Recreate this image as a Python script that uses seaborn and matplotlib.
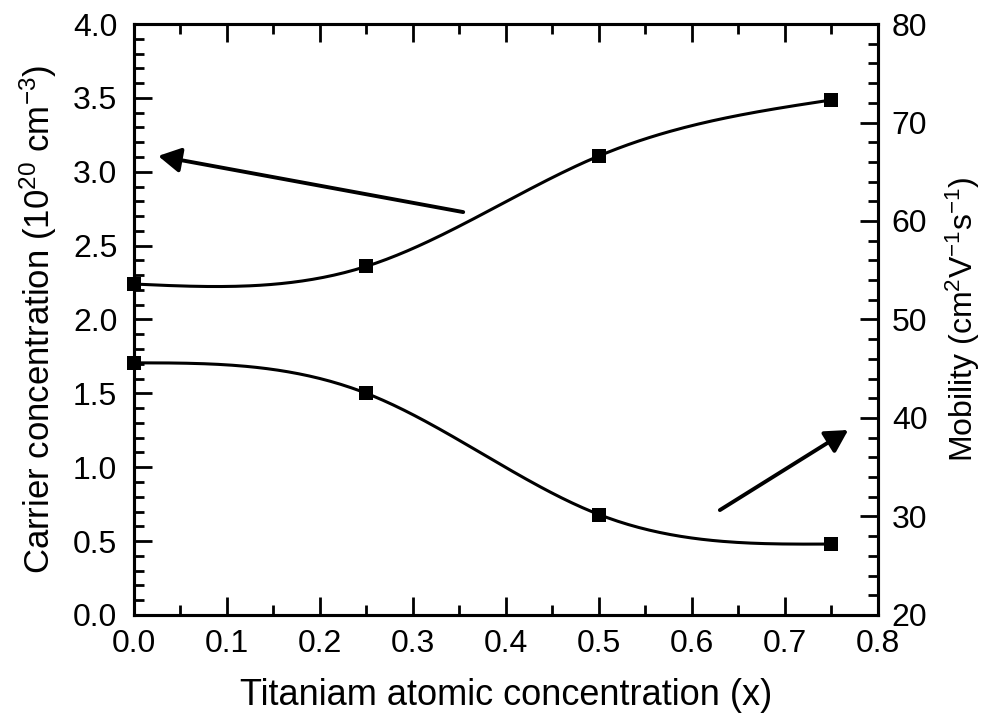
import numpy as np
import pandas as pd
import matplotlib
matplotlib.use("Agg")
import matplotlib.pyplot as plt
from matplotlib.ticker import MultipleLocator, FormatStrFormatter
import seaborn as sns

# ---- data ----
ti_x = [0.0, 0.25, 0.5, 0.75]
carrier_conc = [2.24, 2.36, 3.107, 3.486]     # 10^20 cm^-3 (left axis)
mobility = [45.6, 42.5, 30.2, 27.2]           # cm^2 V^-1 s^-1 (right axis)

x_label = "Titaniam atomic concentration (x)"
left_label = "Carrier concentration (10$^{20}$ cm$^{-3}$)"
right_label = "Mobility (cm$^{2}$V$^{-1}$s$^{-1}$)"


def natural_spline(x, y, n=200):
    x = np.asarray(x, float)
    y = np.asarray(y, float)
    k = len(x)
    h = np.diff(x)
    A = np.zeros((k, k))
    b = np.zeros(k)
    A[0, 0] = A[-1, -1] = 1.0
    for i in range(1, k - 1):
        A[i, i - 1] = h[i - 1]
        A[i, i] = 2 * (h[i - 1] + h[i])
        A[i, i + 1] = h[i]
        b[i] = 6 * ((y[i + 1] - y[i]) / h[i] - (y[i] - y[i - 1]) / h[i - 1])
    M = np.linalg.solve(A, b)
    xs = np.linspace(x[0], x[-1], n)
    idx = np.clip(np.searchsorted(x, xs) - 1, 0, k - 2)
    x0, x1 = x[idx], x[idx + 1]
    hh = x1 - x0
    ys = (M[idx] * (x1 - xs) ** 3 / (6 * hh) + M[idx + 1] * (xs - x0) ** 3 / (6 * hh)
          + (y[idx] / hh - M[idx] * hh / 6) * (x1 - xs)
          + (y[idx + 1] / hh - M[idx + 1] * hh / 6) * (xs - x0))
    return xs, ys


sns.set_theme(style="ticks")
plt.rcParams['font.family'] = ['Liberation Sans', 'DejaVu Sans']
plt.rcParams['mathtext.fontset'] = 'custom'
plt.rcParams['mathtext.rm'] = 'Liberation Sans'
plt.rcParams['mathtext.it'] = 'Liberation Sans'
plt.rcParams['text.color'] = 'black'
plt.rcParams['axes.labelcolor'] = 'black'
plt.rcParams['xtick.color'] = 'black'
plt.rcParams['ytick.color'] = 'black'

fig = plt.figure(figsize=(9.97, 7.23), dpi=100)
ax = fig.add_axes([0.1344, 0.1494, 0.7462, 0.8174])
ax2 = ax.twinx()

df_c = pd.DataFrame({"x": ti_x, "y": carrier_conc})
df_m = pd.DataFrame({"x": ti_x, "y": mobility})

xs, ys = natural_spline(ti_x, carrier_conc)
sns.lineplot(x=xs, y=ys, ax=ax, color="black", linewidth=2.2, sort=False)
sns.scatterplot(data=df_c, x="x", y="y", ax=ax, marker="s", s=95, color="black",
                edgecolor="black", linewidth=0, zorder=5, clip_on=False)

xs2, ys2 = natural_spline(ti_x, mobility)
sns.lineplot(x=xs2, y=ys2, ax=ax2, color="black", linewidth=2.2, sort=False)
sns.scatterplot(data=df_m, x="x", y="y", ax=ax2, marker="s", s=95, color="black",
                edgecolor="black", linewidth=0, zorder=5, clip_on=False)

ax.set_xlim(0, 0.8)
ax.set_ylim(0, 4.0)
ax2.set_ylim(20, 80)

ax.xaxis.set_major_locator(MultipleLocator(0.1))
ax.xaxis.set_minor_locator(MultipleLocator(0.05))
ax.yaxis.set_major_locator(MultipleLocator(0.5))
ax.yaxis.set_minor_locator(MultipleLocator(0.1))
ax2.yaxis.set_major_locator(MultipleLocator(10))
ax2.yaxis.set_minor_locator(MultipleLocator(2))

ax.tick_params(axis="x", which="both", direction="in", top=True, bottom=True)
ax.tick_params(axis="y", which="both", direction="in", left=True, right=False)
ax.tick_params(which="major", length=13, width=2.0, labelsize=23)
ax.tick_params(axis="x", which="major", pad=10)
ax.tick_params(axis="y", which="major", pad=12)
ax.tick_params(which="minor", length=7, width=2.0)
ax2.tick_params(axis="y", which="both", direction="in", right=True, left=False)
ax2.tick_params(which="major", length=13, width=2.0, labelsize=23, pad=10)
ax2.tick_params(which="minor", length=7, width=2.0)

ax.xaxis.set_major_formatter(FormatStrFormatter("%.1f"))
ax.yaxis.set_major_formatter(FormatStrFormatter("%.1f"))

for a in (ax, ax2):
    for sp in a.spines.values():
        sp.set_linewidth(2.2)
        sp.set_color("black")
        sp.set_visible(True)

ax.set_xlabel(x_label, fontsize=26, labelpad=14)
ax.set_ylabel(left_label, fontsize=25, labelpad=10)
ax2.set_ylabel(right_label, fontsize=23, labelpad=12)

arrow_kw = dict(arrowstyle="-|>,head_length=0.45,head_width=0.25", color="black",
                lw=2.8, mutation_scale=30, shrinkA=0, shrinkB=0)
ax.annotate("", xy=(0.026, 3.107), xytext=(0.354, 2.727), arrowprops=arrow_kw)
ax.annotate("", xy=(0.768, 1.252), xytext=(0.630, 0.71), arrowprops=arrow_kw)

fig.savefig("out.png", dpi=100)
